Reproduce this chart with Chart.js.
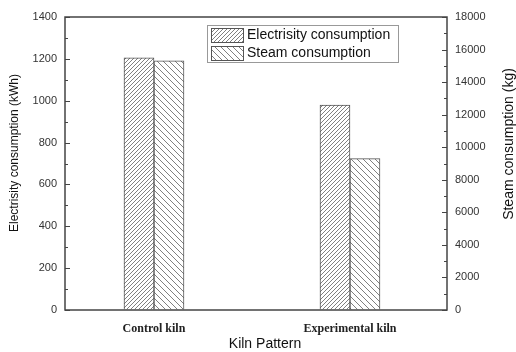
<!DOCTYPE html>
<html>
<head>
<meta charset="utf-8">
<script src="https://cdn.jsdelivr.net/npm/chart.js@4"></script>
<style>
    html, body { margin: 0; padding: 0; background: #fff; }
    #wrap { width: 516px; height: 352px; }
</style>
</head>
<body>
<div id="wrap"><canvas id="kilnChart" width="516" height="352"></canvas></div>
<script>
// --- Data ---
const categories = ["Control kiln", "Experimental kiln"];
const electricity = [1205, 979];      // kWh (left axis)
const steam = [15300, 9300];          // kg (right axis)
const seriesNames = ["Electrisity consumption", "Steam consumption"];
const axisTitles = ["Electrisity consumption (kWh)", "Steam consumption (kg)", "Kiln Pattern"];

const SANS = "'Liberation Sans', Arial, sans-serif";

// --- Hatch patterns ---
function makeHatch(gap, forward) {
    const c = document.createElement("canvas");
    c.width = gap;
    c.height = gap;
    const g = c.getContext("2d");
    g.fillStyle = "#fff";
    g.fillRect(0, 0, gap, gap);
    g.strokeStyle = "#808080";
    g.lineWidth = 1;
    g.beginPath();
    if (forward) {
        // "/" lines
        g.moveTo(-1, gap + 1); g.lineTo(gap + 1, -1);
        g.moveTo(-1, 1); g.lineTo(1, -1);
        g.moveTo(gap - 1, gap + 1); g.lineTo(gap + 1, gap - 1);
    } else {
        // "\" lines
        g.moveTo(-1, -1); g.lineTo(gap + 1, gap + 1);
        g.moveTo(gap - 1, -1); g.lineTo(gap + 1, 1);
        g.moveTo(-1, gap - 1); g.lineTo(1, gap + 1);
    }
    g.stroke();
    return g.createPattern(c, "repeat");
}

const ctx = document.getElementById("kilnChart").getContext("2d");
const hatchElec = makeHatch(4, true);
const hatchSteam = makeHatch(6, false);

// frame, inward ticks, axis titles and the boxed legend
const framePlugin = {
    id: "frame",
    afterDraw(chart) {
        const a = chart.chartArea;
        const c = chart.ctx;
        c.save();

        // inward ticks (major + minor)
        c.strokeStyle = "#444";
        c.lineWidth = 1;
        const yl = chart.scales.y, yr = chart.scales.y1;
        c.beginPath();
        yl.ticks.forEach(t => {
            const py = Math.round(yl.getPixelForValue(t.value)) + 0.5;
            const len = t.value % 200 === 0 ? 5 : 3;
            c.moveTo(a.left, py); c.lineTo(a.left + len, py);
        });
        yr.ticks.forEach(t => {
            const py = Math.round(yr.getPixelForValue(t.value)) + 0.5;
            const len = t.value % 2000 === 0 ? 5 : 3;
            c.moveTo(a.right, py); c.lineTo(a.right - len, py);
        });
        c.stroke();

        c.strokeStyle = "#444";
        c.lineWidth = 1.5;
        c.strokeRect(a.left, a.top, a.right - a.left, a.bottom - a.top);

        // axis titles
        c.fillStyle = "#111";
        c.textAlign = "center";
        c.textBaseline = "middle";
        c.font = "12px " + SANS;
        c.save();
        c.translate(15, 153);
        c.rotate(-Math.PI / 2);
        c.fillText(axisTitles[0], 0, 0);
        c.restore();
        c.font = "14px " + SANS;
        c.save();
        c.translate(509, 144);
        c.rotate(-Math.PI / 2);
        c.fillText(axisTitles[1], 0, 0);
        c.restore();
        c.fillText(axisTitles[2], 265, 344);

        // legend
        const lx = 207, ly = 25, lw = 191, lh = 37;
        c.textAlign = "left";
        c.lineWidth = 1;
        c.strokeStyle = "#999";
        c.fillStyle = "#fff";
        c.fillRect(lx, ly, lw, lh);
        c.strokeRect(lx + 0.5, ly + 0.5, lw, lh);
        const fills = [hatchElec, hatchSteam];
        c.font = "14px " + SANS;
        for (let i = 0; i < 2; i++) {
            const y = ly + 3 + i * 18;
            c.fillStyle = fills[i];
            c.fillRect(lx + 4, y, 32, 14);
            c.strokeStyle = "#555";
            c.strokeRect(lx + 4.5, y + 0.5, 32, 14);
            c.fillStyle = "#111";
            c.fillText(seriesNames[i], lx + 40, y + 7.5);
        }
        c.restore();
    }
};

new Chart(ctx, {
    type: "bar",
    data: {
        datasets: [
            {
                label: seriesNames[0],
                data: electricity.map((v, i) => ({ x: i, y: v })),
                yAxisID: "y",
                backgroundColor: hatchElec,
                borderColor: "#555",
                borderWidth: 1,
                barThickness: 30
            },
            {
                label: seriesNames[1],
                data: steam.map((v, i) => ({ x: i, y: v })),
                yAxisID: "y1",
                backgroundColor: hatchSteam,
                borderColor: "#555",
                borderWidth: 1,
                barThickness: 30
            }
        ]
    },
    options: {
        responsive: false,
        animation: false,
        layout: { padding: { top: 17, left: 0, right: 0, bottom: 0 } },
        plugins: {
            legend: { display: false },
            tooltip: { enabled: false }
        },
        scales: {
            x: {
                type: "linear",
                min: -0.454,
                max: 1.495,
                offset: false,
                grid: { display: false, drawTicks: false },
                border: { display: false },
                ticks: {
                    stepSize: 1,
                    includeBounds: false,
                    autoSkip: false,
                    maxRotation: 0,
                    color: "#222",
                    padding: 12,
                    font: { family: "'Liberation Serif', 'Times New Roman', serif", size: 12, weight: "bold" },
                    callback: (v) => (Number.isInteger(v) && categories[v] ? categories[v] : "")
                },
                afterFit(scale) { scale.height = 42; }
            },
            y: {
                position: "left",
                min: 0,
                max: 1400,
                grid: { drawOnChartArea: false, drawTicks: false },
                border: { display: false },
                ticks: {
                    stepSize: 100,
                    autoSkip: false,
                    color: "#333",
                    padding: 8,
                    font: { family: SANS, size: 11 },
                    callback: (v) => (v % 200 === 0 ? v : "")
                },
                afterFit(scale) { scale.width = 65; }
            },
            y1: {
                position: "right",
                min: 0,
                max: 18000,
                grid: { drawOnChartArea: false, drawTicks: false },
                border: { display: false },
                ticks: {
                    stepSize: 1000,
                    autoSkip: false,
                    color: "#333",
                    padding: 8,
                    font: { family: SANS, size: 11 },
                    callback: (v) => (v % 2000 === 0 ? v : "")
                },
                afterFit(scale) { scale.width = 69; }
            }
        }
    },
    plugins: [framePlugin]
});
</script>
</body>
</html>
